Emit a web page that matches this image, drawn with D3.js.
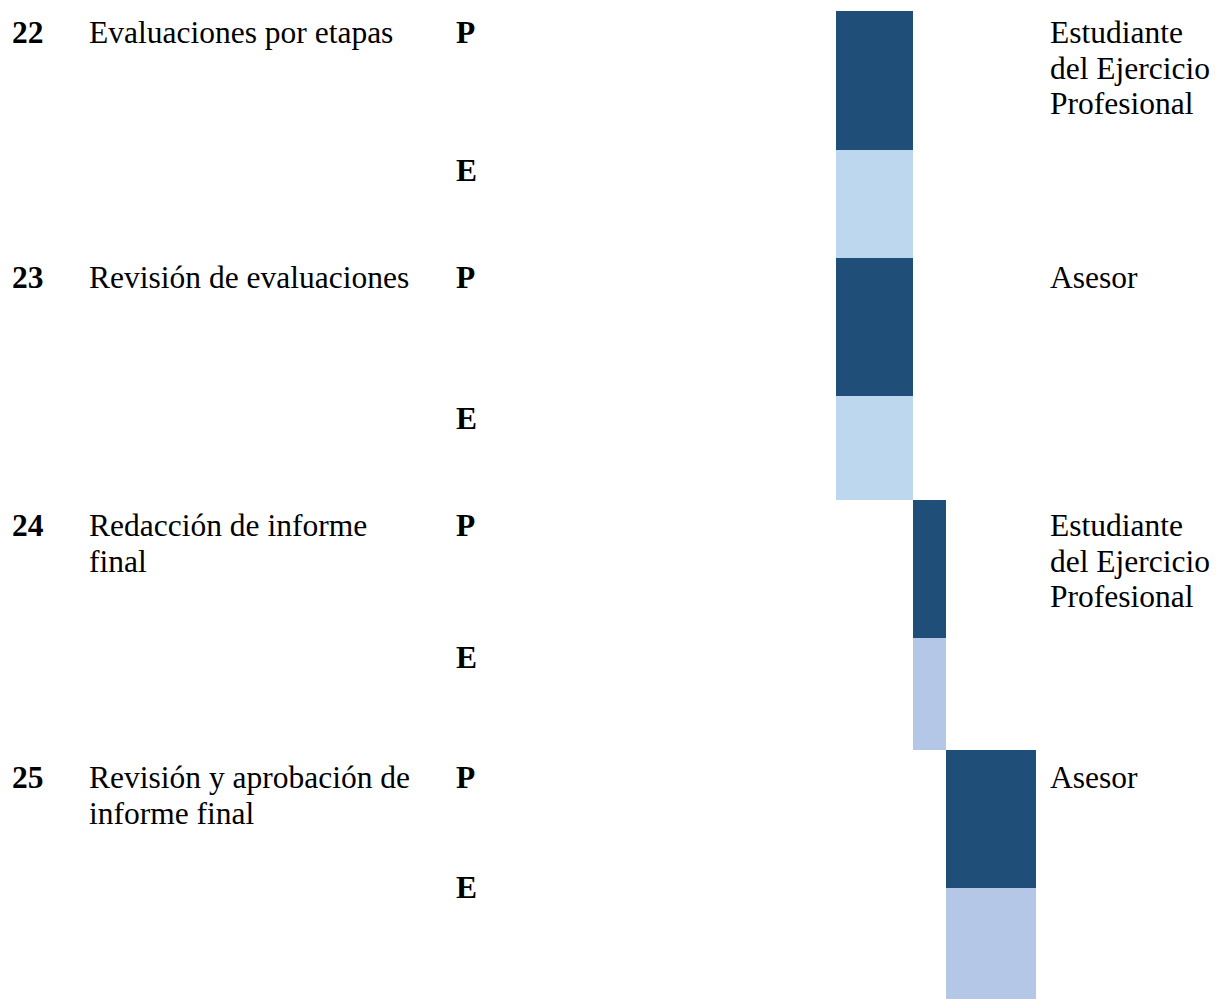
<!DOCTYPE html>
<html>
<head>
<meta charset="utf-8">
<script src="https://cdn.jsdelivr.net/npm/d3@7"></script>
<style>
  body { margin: 0; background: #fff; }
  svg { display: block; }
  text { font-family: "Liberation Serif", "Times New Roman", serif; font-size: 31.5px; fill: #000; }
  .num, .kind { font-weight: bold; }
</style>
</head>
<body>
<svg width="1218" height="999"></svg>
<script>
// activity rows
const ids = ["22", "23", "24", "25"];
const activities = [
    ["Evaluaciones por etapas"],
    ["Revisión de evaluaciones"],
    ["Redacción de informe", "final"],
    ["Revisión y aprobación de", "informe final"]
];
const responsables = [
    ["Estudiante", "del Ejercicio", "Profesional"],
    ["Asesor"],
    ["Estudiante", "del Ejercicio", "Profesional"],
    ["Asesor"]
];
// planned (P) and executed (E) periods, in weeks
const planStart = [0, 0, 7.7, 11];
const planEnd = [7.7, 7.7, 11, 20];
const execStart = [0, 0, 7.7, 11];
const execEnd = [7.7, 7.7, 11, 20];

// layout of the table rows (px)
const top0 = 11;
const rowH = [247, 242, 250, 249];
const planH = [139, 138, 138, 138];
const textOff = [32, 30, 36, 38];
const eOff = [170, 171, 168, 148];
const lineH = 35.5;
const darkBlue = "#1F4E79";
const lightBlue = (i) => i < 2 ? "#BDD7EE" : "#B4C7E7";

const svg = d3.select('svg');

const x = d3.scaleLinear().domain([0, 20]).range([836, 1036]);
const rowTop = [top0].concat(Array.from(d3.cumsum(rowH), v => top0 + v));

const rows = ids.map((id, i) => ({
    id: id,
    i: i,
    activity: activities[i],
    resp: responsables[i],
    p: [planStart[i], planEnd[i]],
    e: [execStart[i], execEnd[i]]
}));

const g = svg.selectAll('g.row')
    .data(rows)
    .enter()
    .append('g')
    .attr('class', 'row')
    .attr('transform', d => 'translate(0,' + rowTop[d.i] + ')');

// planned bars
g.append('rect')
    .attr('x', d => x(d.p[0]))
    .attr('y', 0)
    .attr('width', d => x(d.p[1]) - x(d.p[0]))
    .attr('height', d => planH[d.i])
    .attr('fill', darkBlue);

// executed bars
g.append('rect')
    .attr('x', d => x(d.e[0]))
    .attr('y', d => planH[d.i])
    .attr('width', d => x(d.e[1]) - x(d.e[0]))
    .attr('height', d => rowH[d.i] - planH[d.i])
    .attr('fill', d => lightBlue(d.i));

g.append('text')
    .attr('class', 'num')
    .attr('x', 12)
    .attr('y', d => textOff[d.i])
    .text(d => d.id);

g.append('text')
    .attr('x', 89)
    .attr('y', d => textOff[d.i])
    .selectAll('tspan')
    .data(d => d.activity)
    .enter()
    .append('tspan')
    .attr('x', 89)
    .attr('dy', (d, i) => i === 0 ? 0 : lineH)
    .text(d => d);

g.append('text')
    .attr('class', 'kind')
    .attr('x', 456)
    .attr('y', d => textOff[d.i])
    .text('P');

g.append('text')
    .attr('class', 'kind')
    .attr('x', 456)
    .attr('y', d => eOff[d.i])
    .text('E');

g.append('text')
    .attr('x', 1050)
    .attr('y', d => textOff[d.i])
    .selectAll('tspan')
    .data(d => d.resp)
    .enter()
    .append('tspan')
    .attr('x', 1050)
    .attr('dy', (d, i) => i === 0 ? 0 : lineH)
    .text(d => d);
</script>
</body>
</html>
